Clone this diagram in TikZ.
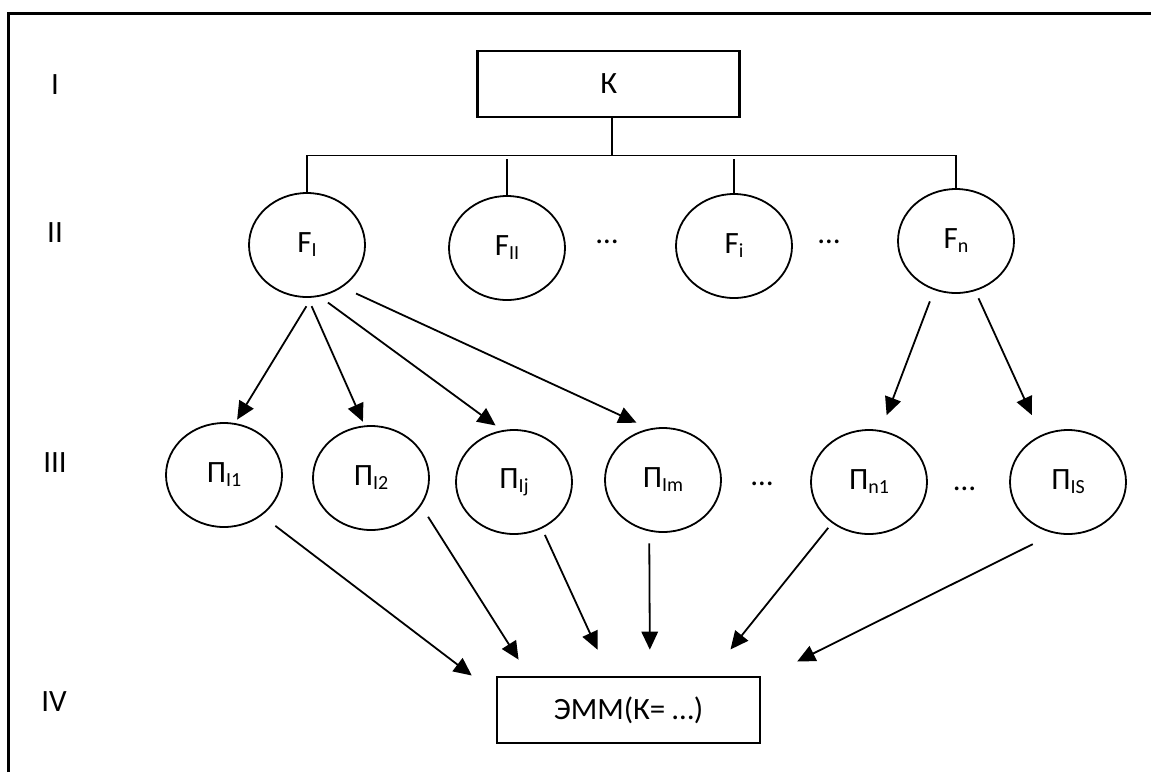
\documentclass[tikz,border=0pt]{standalone}
\usepackage{fontspec}
\setmainfont{Carlito}
\usetikzlibrary{shapes.geometric,arrows.meta}
\newcommand\sbs[1]{\raisebox{-4pt}{\fontsize{20}{22}\selectfont #1}}
\begin{document}
\begin{tikzpicture}[x=1pt,y=1pt,
  every node/.style={font=\fontsize{31}{37}\selectfont},
  ell/.style={draw, ellipse, line width=1.8pt, minimum width=116pt, minimum height=104pt, inner sep=0pt},
  box/.style={draw, rectangle, line width=2.7pt, inner sep=0pt},
  conn/.style={line width=1.6pt},
  frame/.style={line width=3pt},
  arr/.style={line width=1.8pt, -{Triangle[length=18pt,width=16.5pt]}},
  dots/.style={anchor=base}]
\useasboundingbox (0,0) rectangle (1151,-772);
\draw[frame] (8.7,-772) -- (8.7,-13) -- (1151,-13);

% level labels
\node (l1) at (55,-85) {I};
\node (l2) at (55,-233) {II};
\node (l3) at (55,-463) {III};
\node (l4) at (54,-702) {IV};

% boxes
\node[box, minimum width=262pt, minimum height=66pt] (K) at (608.7,-84) {К};
\node[box, minimum width=263pt, minimum height=66pt] (emm) at (628.5,-710) {ЭММ(К= …)};

% row II
\node[ell] (fI) at (307,-245) {F\sbs{I}};
\node[ell] (fII) at (507,-248) {F\sbs{II}};
\node[ell] (fi) at (734,-246) {F\sbs{i}};
\node[ell] (fn) at (956,-241) {F\sbs{n}};
\node[dots] (d1) at (607,-243) {…};
\node[dots] (d2) at (829,-243) {…};

% row III
\node[ell] (pI1) at (224,-475) {П\sbs{I1}};
\node[ell] (pI2) at (371,-478) {П\sbs{I2}};
\node[ell] (pIj) at (514,-482) {П\sbs{Ij}};
\node[ell] (pIm) at (663,-480) {П\sbs{Im}};
\node[ell] (pn1) at (869,-482) {П\sbs{n1}};
\node[ell] (pIS) at (1068,-482) {П\sbs{IS}};
\node[dots] (d3) at (762,-485) {…};
\node[dots] (d4) at (964.5,-490) {…};

% bus
\draw[conn] ([xshift=3pt]K.south) -- ++(0,-37) coordinate (busc);
\draw[conn] (fI.north) |- (busc) -| (fn.north);
\draw[conn] (fII.north) -- ++(0,36);
\draw[conn] (fi.north) -- ++(0,34);

% arrows row II -> row III
\draw[arr, shorten <=10pt, shorten >=4pt] (fI.-85) -- (pI1.78);
\draw[arr, shorten <=9pt, shorten >=4pt] (fI.-89) -- (pI2.97);
\draw[arr, shorten <=10pt, shorten >=8pt] (fI.-76) -- (pIj.103);
\draw[arr, shorten <=15pt, shorten >=14pt] (fI.-50) -- (pIm.105);
\draw[arr, shorten <=12pt, shorten >=16pt] (fn.-114) -- (pn1.77);
\draw[arr, shorten <=8pt, shorten >=22pt] (fn.-69.5) -- (pIS.120);

% arrows row III -> bottom box
\draw[arr, shorten <=17pt, shorten >=30pt] (pI1.-47.6) -- (emm.173.2);
\draw[arr, shorten <=13pt, shorten >=19pt] (pI2.-29.7) -- (emm.161.3);
\draw[arr, shorten <=7pt, shorten >=28.6pt] (pIj.-59.9) -- (emm.119.8);
\draw[arr, shorten <=12pt, shorten >=26pt] (pIm.-105.4) -- (emm.58.9);
\draw[arr, shorten <=6pt, shorten >=33.6pt] (pn1.-132) -- (emm.23.4);
\draw[arr, shorten <=24pt, shorten >=40pt] (pIS.-105.8) -- (emm.13.7);
\end{tikzpicture}
\end{document}
